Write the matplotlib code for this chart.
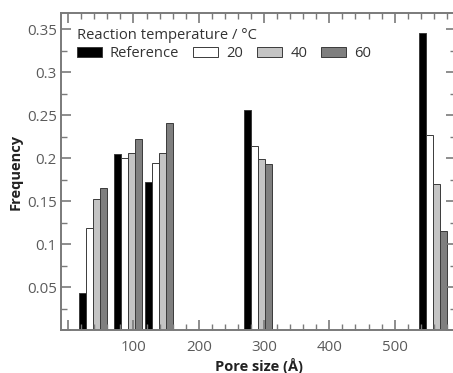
import numpy as np
import matplotlib
matplotlib.use("Agg")
import matplotlib.pyplot as plt
from matplotlib.ticker import MultipleLocator, FuncFormatter

# pore size bins (centre of each group of bars, in angstrom)
pore_sizes = [38, 91, 139, 290, 558]

series_names = ["Reference", "20", "40", "60"]
freq_reference = [0.044, 0.205, 0.173, 0.256, 0.346]
freq_20 = [0.119, 0.200, 0.195, 0.215, 0.227]
freq_40 = [0.153, 0.206, 0.206, 0.199, 0.170]
freq_60 = [0.166, 0.223, 0.241, 0.194, 0.116]

plt.rcParams['font.family'] = ['Open Sans', 'DejaVu Sans']

fig = plt.figure(figsize=(4.53, 3.73), dpi=100)
ax = fig.add_axes([0.1347, 0.114, 0.872, 0.851])

fills = ["#000000", "#ffffff", "#c4c4c4", "#7f7f7f"]
bar_w = 10.7
offsets = np.array([-1.5, -0.5, 0.5, 1.5]) * bar_w
x = np.array(pore_sizes, dtype=float)

for vals, name, col, off in zip([freq_reference, freq_20, freq_40, freq_60],
                                series_names, fills, offsets):
    ax.bar(x + off, vals, width=bar_w, color=col, edgecolor="#3a3a3a",
           linewidth=0.7, label=name)

ax.set_xlim(-11, 594)
ax.set_ylim(0, 0.369)

grey = "#7a7a7a"
for s in ax.spines.values():
    s.set_color(grey)
    s.set_linewidth(1.4)

ax.xaxis.set_major_locator(MultipleLocator(100))
ax.xaxis.set_minor_locator(MultipleLocator(20))
ax.yaxis.set_major_locator(MultipleLocator(0.05))
ax.yaxis.set_minor_locator(MultipleLocator(0.025))
ax.xaxis.set_major_formatter(FuncFormatter(lambda v, p: "" if v <= 0 else f"{v:g}"))
ax.yaxis.set_major_formatter(FuncFormatter(lambda v, p: "" if v <= 0 else f"{v:g}"))

ax.tick_params(which="both", direction="in", top=True, right=True,
               color=grey, labelcolor="#5a5a5a", labelsize=10.8)
ax.tick_params(which="major", length=7, width=1.2)
ax.tick_params(axis="y", which="major", pad=3)
ax.tick_params(axis="x", which="major", pad=7)
ax.tick_params(which="minor", length=4, width=1.0)

ax.set_xlabel("Pore size (Å)", fontsize=10.5, fontweight="bold", color="#222222", labelpad=2)
ax.set_ylabel("Frequency", fontsize=10.5, fontweight="bold", color="#222222", labelpad=3)

leg = ax.legend(title="Reaction temperature / °C", loc="upper left",
                bbox_to_anchor=(0.01, 0.99), ncol=4, frameon=False,
                fontsize=10.6, title_fontsize=10.6, alignment="left",
                handlelength=1.7, handleheight=0.7, handletextpad=0.55,
                columnspacing=0.95, borderpad=0.5, borderaxespad=0.3,
                labelspacing=0.2)
for t in leg.get_texts():
    t.set_color("#333333")
leg.get_title().set_color("#333333")

fig.savefig("out.png", dpi=100)
